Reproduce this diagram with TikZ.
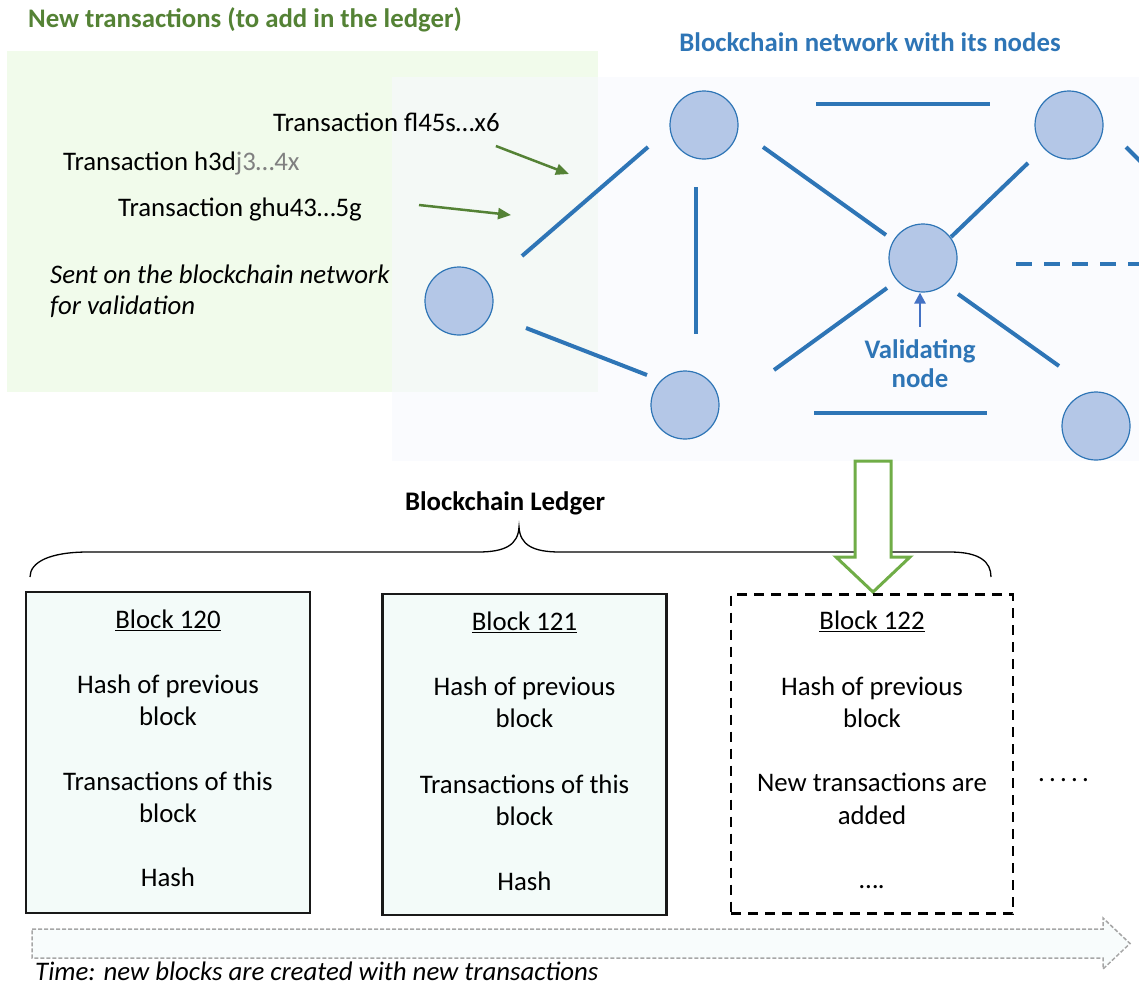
\documentclass[tikz,border=0pt]{standalone}
\usepackage{fontspec}
\setmainfont{Carlito}
\usetikzlibrary{arrows.meta,calc}
\definecolor{netblue}{RGB}{46,117,182}
\definecolor{nodefill}{RGB}{180,199,231}
\definecolor{txgreen}{RGB}{84,130,53}
\definecolor{arrgreen}{RGB}{112,173,71}
\definecolor{valblue}{RGB}{68,114,196}
\definecolor{bgreen}{RGB}{241,251,235}
\definecolor{bblue}{RGB}{247,249,254}
\definecolor{blockfill}{RGB}{243,251,249}
\definecolor{timegray}{RGB}{166,166,166}
\definecolor{timefill}{RGB}{248,252,252}
\definecolor{fadegray}{RGB}{128,128,128}
\newcommand{\blocktext}[2]{%
  \foreach \dy/\t [count=\i] in {#2}
    \node[txt,anchor=base] (#1-\i) at ($(#1.north)+(0,\dy)$) {\t};}
\begin{document}
\begin{tikzpicture}[x=1pt,y=-1pt,
  txt/.style={inner sep=0pt,font=\fontsize{26.8}{32}\selectfont},
  txtb/.style={inner sep=0pt,font=\fontsize{26.8}{32}\selectfont\bfseries},
  txti/.style={inner sep=0pt,font=\fontsize{26.8}{32}\selectfont\itshape},
  netnode/.style={circle,minimum size=68pt,inner sep=0pt,fill=nodefill,draw=netblue,line width=1.2pt},
  netline/.style={draw=netblue,line width=4pt},
  garrow/.style={draw=txgreen,line width=2.5pt,-{Triangle[length=13pt,width=11pt]}},
  varrow/.style={draw=valblue,line width=2.5pt,-{Triangle[length=11pt,width=11pt]}},
  blockbox/.style={draw=black!90,line width=2.5pt,fill=blockfill,minimum width=284pt,minimum height=321pt,inner sep=0pt},
  newblock/.style={draw=black,line width=2.5pt,dash pattern=on 10pt off 7pt,fill=white,minimum width=282pt,minimum height=319pt,inner sep=0pt},
]
\useasboundingbox (0,0) rectangle (1139,986);

% backgrounds
\fill[bgreen] (7,51) rectangle (598,392);
\fill[bblue,opacity=0.6] (392,77) rectangle (1139,461);

% titles
\node[txtb,text=txgreen,anchor=base west] (newtx) at (28,27) {New transactions (to add in the ledger)};
\node[txtb,text=netblue,anchor=base] (nettitle) at (870,51) {Blockchain network with its nodes};

% network nodes
\node[netnode] (L) at (459,301) {};
\node[netnode] (A) at (704,125) {};
\node[netnode] (B) at (1069,125) {};
\node[netnode] (V) at (923,258) {};
\node[netnode] (C) at (685,405) {};
\node[netnode] (D) at (1096,426) {};

% network links
\draw[netline] ($(L)+(63,-45)$) -- ($(A)+(-56,22)$);
\draw[netline] ($(L)+(67,27)$) -- ($(C)+(-38,-30)$);
\draw[netline] ($(A)+(-8,62)$) -- ($(C)+(11,-71)$);
\draw[netline] ($(A)+(59,22)$) -- ($(V)+(-37,-23)$);
\draw[netline] ($(A)+(112,-21)$) -- ($(B)+(-79,-21)$);
\draw[netline] ($(V)+(28,-21)$) -- ($(B)+(-41,38)$);
\draw[netline] ($(V)+(-36,30)$) -- ($(C)+(89,-35)$);
\draw[netline] ($(V)+(35,36)$) -- ($(D)+(-37,-60)$);
\draw[netline] ($(C)+(129,8)$) -- ($(D)+(-109,-13)$);
\draw[netline,dash pattern=on 16pt off 12pt] ($(V)+(93,6)$) -- ++(130,0);
\draw[netline] ($(B)+(57,22)$) -- ++(16,16);

% validating node
\node[txtb,text=netblue,anchor=base] (val1) at (920,358) {Validating};
\node[txtb,text=netblue,anchor=base] (val2) at (920,387) {node};
\draw[varrow] ($(V.south)+(-3,34)$) -- ($(V.south)+(-3,0)$);

% transactions
\node[txt,anchor=base west] (tx1) at (273,131.5) {Transaction fl45s…x6};
\node[txt,anchor=base west] (tx2) at (63,170) {Transaction h3d\textcolor{fadegray}{j3…4x}};
\node[txt,anchor=base west] (tx3) at (118,216.5) {Transaction ghu43…5g};
\node[txti,anchor=base west] (sent1) at (50,283) {Sent on the blockchain network};
\node[txti,anchor=base west] (sent2) at (50,314) {for validation};
\draw[garrow] ($(tx1.base east)+(-4,14.5)$) -- ++(73,28);
\draw[garrow] ($(tx3.base east)+(57,-11.5)$) -- ++(92,10);

% ledger brace
\node[txtb,anchor=base] (ledger) at (505,510) {Blockchain Ledger};
\draw[line width=1.3pt] (30,577) .. controls (30,562) and (50,552) .. (88,552) -- (478,552)
  .. controls (505,552) and (518,545) .. (519,527)
  .. controls (520,545) and (533,552) .. (560,552) -- (950,552)
  .. controls (980,552) and (991,562) .. (991,577);

% hollow down arrow
\draw[draw=arrgreen,fill=white,line width=3pt,line join=miter] (855,461) -- (855,557) -- (836,557) -- (873,592) -- (910,557) -- (891,557) -- (891,461) -- cycle;

% blocks
\node[blockbox] (b120) at (168,752.5) {};
\node[blockbox] (b121) at (524.5,754.5) {};
\node[newblock] (b122) at (872,754) {};
\blocktext{b120}{38/{\underline{Block 120}},103/Hash of previous,135/block,200/Transactions of this,232/block,296/Hash}
\blocktext{b121}{38/{\underline{Block 121}},103/Hash of previous,135/block,201/Transactions of this,233/block,298/Hash}
\blocktext{b122}{36/{\underline{Block 122}},102/Hash of previous,134/block,198/New transactions are,231/added,295/….}
\node[txt,anchor=base west] (more) at (1038,781) {.\hspace{4.2pt}.\hspace{4.2pt}.\hspace{4.2pt}.\hspace{4.2pt}.};

% time arrow
\draw[draw=timegray,fill=timefill,line width=1.5pt,dash pattern=on 4pt off 2pt]
  (32,929) -- (1103,929) -- (1103,918) -- (1130,943.5) -- (1103,969) -- (1103,958) -- (32,958) -- cycle;
\node[txti,anchor=base west] (timetxt) at (35,980) {Time: new blocks are created with new transactions};
\end{tikzpicture}
\end{document}
